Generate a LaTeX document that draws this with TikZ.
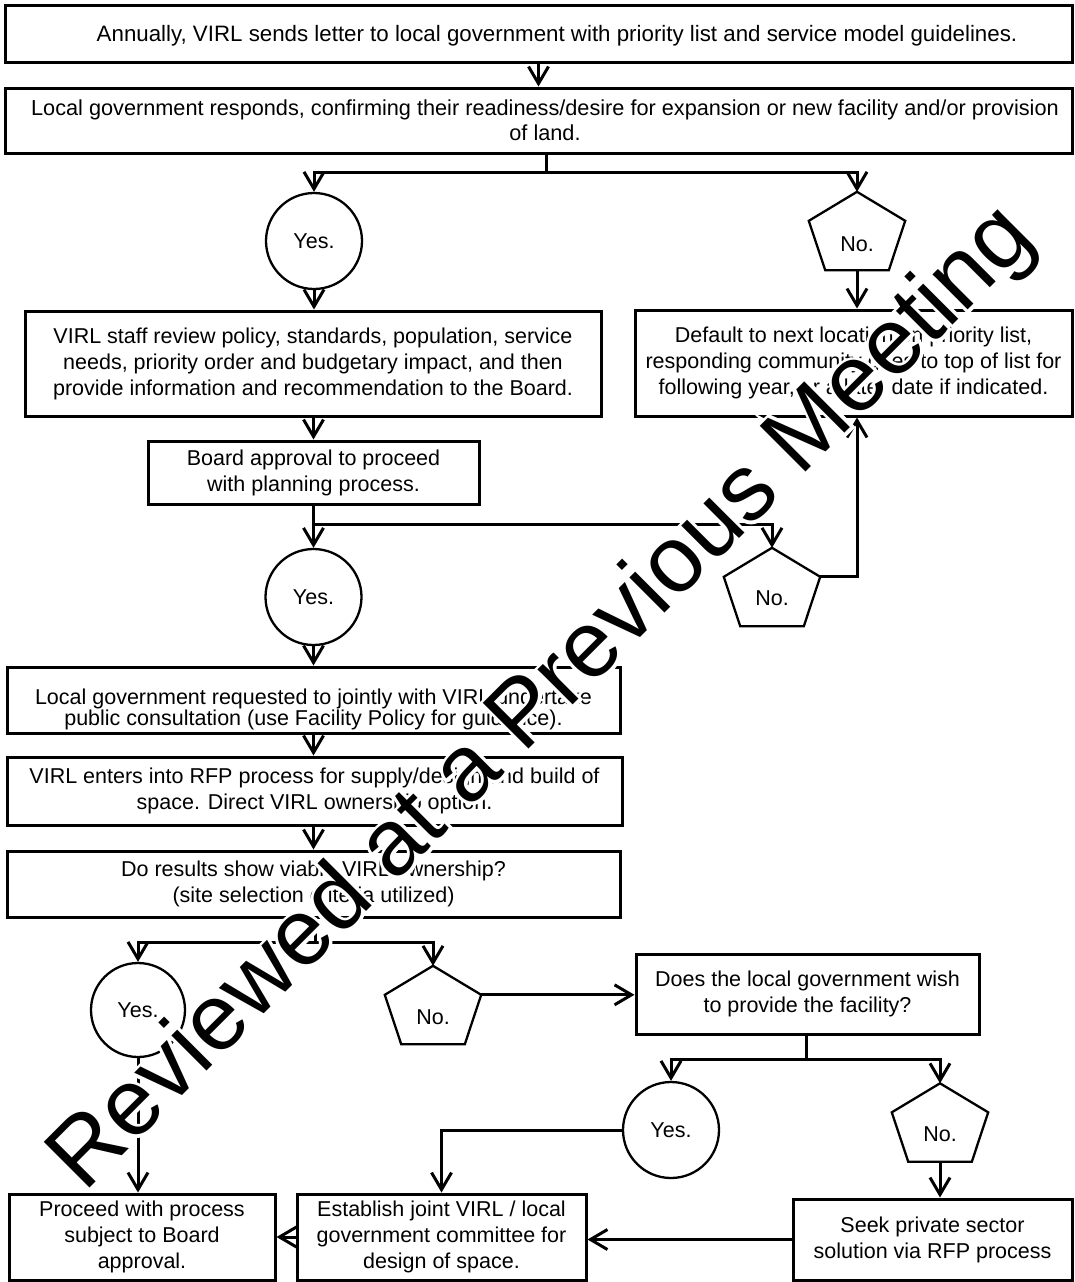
\documentclass[tikz,border=0pt]{standalone}
\usepackage{fontspec}
\setmainfont{Liberation Sans}
\newfontfamily\wmhalofont[FakeBold=6.8]{Liberation Sans}
\usetikzlibrary{arrows.meta,calc}
\newcommand\drawpent[1]{%
  \coordinate (#1-l) at ($(#1.north west)!0.37!(#1.south west)$);
  \coordinate (#1-r) at ($(#1.north east)!0.37!(#1.south east)$);
  \draw[shapeline] (#1.north) -- (#1-l) -- ($(#1.south west)!0.17!(#1.south east)$)
    -- ($(#1.south west)!0.83!(#1.south east)$) -- (#1-r) -- cycle;}
\newcommand\wmtext{Reviewed at a Previous Meeting}
\begin{document}
\begin{tikzpicture}[x=1pt,y=-1pt,
  txt/.style={font=\fontsize{21.5pt}{26pt}\selectfont},
  box/.style={txt, draw, line width=3pt, rectangle, inner sep=0pt, align=center},
  circ/.style={txt, circle, draw, line width=2.3pt, minimum size=96pt, inner sep=0pt},
  pent/.style={rectangle, draw=none, minimum width=96pt, minimum height=78pt, inner sep=0pt},
  shapeline/.style={line width=2.3pt, line join=miter},
  conn/.style={line width=3pt},
  arr/.style={conn, -{Straight Barb[length=17pt,width=20pt]}},
  wm/.style={rotate=45, anchor=base, inner sep=0pt}]
\useasboundingbox (0,0) rectangle (1074,1282);
\fill[white] (0,0) rectangle (1074,1282);

% boxes
\node[box, minimum width=1067pt, minimum height=57pt] (b1) at (538.5,33.5) {};
\node[font=\fontsize{22.3pt}{26pt}\selectfont, inner sep=0pt] (b1t) at (557,36)
  {Annually, VIRL sends letter to local government with priority list and service model guidelines.};
\node[box, minimum width=1067pt, minimum height=65pt] (b2) at (538.5,120.5) {};
\node[font=\fontsize{21.7pt}{25pt}\selectfont, align=center, inner sep=0pt] (b2t) at (545,120)
  {Local government responds, confirming their readiness/desire for expansion or new facility and/or provision\\of land.};
\node[circ] (yes1) at (314,241) {Yes.};
\node[pent, label={[txt, name=no1t, yshift=-13pt]center:No.}] (no1) at (857,231) {};
\drawpent{no1}
\node[box, minimum width=576pt, minimum height=105pt] (b3) at (313,363.5)
  {VIRL staff review policy, standards, population, service\\needs, priority order and budgetary impact, and then\\provide information and recommendation to the Board.};
\node[box, minimum width=437pt, minimum height=106pt] (b4) at (853.5,363)
  {Default to next location on priority list,\\responding community goes to top of list for\\following year, or a later date if indicated.};
\node[box, minimum width=331pt, minimum height=63pt] (board) at (313.5,472.5)
  {Board approval to proceed\\with planning process.};
\node[circ] (yes2) at (313.5,597) {Yes.};
\node[pent, label={[txt, name=no2t, yshift=-11pt]center:No.}] (no2) at (772,587) {};
\drawpent{no2}
\node[box, minimum width=613pt, minimum height=66pt] (b5) at (313.5,700) {};
\node[txt, font=\fontsize{21.5pt}{21pt}\selectfont, align=center, inner sep=0pt] (b5t) at (313.5,709)
  {Local government requested to jointly with VIRL undertake\\public consultation (use Facility Policy for guidance).};
\node[box, minimum width=615pt, minimum height=68pt] (b6) at (314.5,791)
  {VIRL enters into RFP process for supply/design and build of\\space. Direct VIRL ownership option.};
\node[box, minimum width=613pt, minimum height=66pt] (b7) at (313.5,884)
  {Do results show viable VIRL ownership?\\(site selection criteria utilized)};
\node[circ, minimum size=94pt] (yes3) at (138,1010) {Yes.};
\node[pent, label={[txt, name=no3t, yshift=-12pt]center:No.}] (no3) at (433,1005) {};
\drawpent{no3}
\node[box, minimum width=343pt, minimum height=80pt] (b10) at (807.5,994)
  {Does the local government wish\\to provide the facility?};
\node[circ] (yes4) at (671,1130) {Yes.};
\node[pent, label={[txt, name=no4t, yshift=-12pt]center:No.}] (no4) at (940,1122.5) {};
\drawpent{no4}
\node[box, minimum width=266pt, minimum height=86pt] (b8) at (142,1237)
  {Proceed with process\\subject to Board\\approval.};
\node[box, minimum width=289pt, minimum height=86pt] (b9) at (441.5,1237)
  {Establish joint VIRL / local\\government committee for\\design of space.};
\node[box, minimum width=279pt, minimum height=81pt] (b11) at (932.5,1239.5)
  {Seek private sector\\solution via RFP process};

% connectors
\draw[arr] (b1.south) -- (b2.north);
\coordinate (s1) at (546,172);
\draw[conn] (b2.south -| s1) -- (s1);
\draw[arr] (s1) -| (yes1.north);
\draw[arr] (s1) -| (no1.north);
\draw[arr] (yes1.south) -- (yes1.south |- b3.north);
\draw[arr] (no1.south) -- (no1.south |- b4.north);
\draw[arr] (b3.south -| board.north) -- (board.north);
\coordinate (s2) at (313.5,524);
\draw[arr] (board.south) -- (board.south |- yes2.north);
\draw[arr] (s2) -| (no2.north);
\draw[arr] (no2-r) -| (no1.south |- b4.south);
\draw[arr] (yes2.south) -- (yes2.south |- b5.north);
\draw[arr] (b5.south -| yes2.south) -- (yes2.south |- b6.north);
\draw[arr] (b6.south -| yes2.south) -- (yes2.south |- b7.north);
\coordinate (s3) at (315,942);
\draw[conn] (b7.south -| s3) -- (s3);
\draw[arr] (s3) -| (yes3.north);
\draw[arr] (s3) -| (no3.north);
\draw[arr] (yes3.south) -- (yes3.south |- b8.north);
\draw[arr] (no3-r) -- (no3-r -| b10.west);
\coordinate (s4) at (806,1059);
\draw[conn] (b10.south -| s4) -- (s4);
\draw[arr] (s4) -| (yes4.north);
\draw[arr] (s4) -| (no4.north);
\draw[arr] (no4.south) -- (no4.south |- b11.north);
\draw[arr] (yes4.west) -| (b9.north);
\draw[arr] (b11.west) -- (b11.west -| b9.east);
\draw[arr] (b9.west) -- (b9.west -| b8.east);

% watermark: black text with white halo
\coordinate (wmc) at (561,717);
\node[wm, text=white, font=\wmhalofont\fontsize{94pt}{94pt}\selectfont] (wmh) at (wmc) {\wmtext};
\node[wm, text=black, font=\fontsize{94pt}{94pt}\selectfont] (wm) at (wmc) {\wmtext};
\end{tikzpicture}
\end{document}
